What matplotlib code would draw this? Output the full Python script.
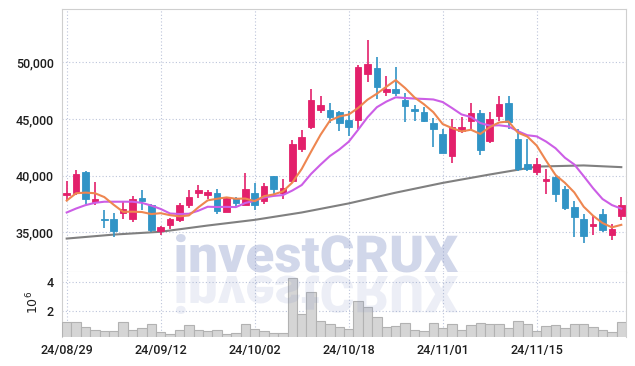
import matplotlib
matplotlib.use("Agg")
import matplotlib.pyplot as plt
import numpy as np
import pandas as pd
from matplotlib.textpath import TextPath
from matplotlib.patches import PathPatch
from matplotlib.font_manager import FontProperties
from matplotlib.transforms import Affine2D, IdentityTransform

# daily candles, 24/08/29 .. 24/11/29 (60 trading days)
opens = [38250, 38500, 40300, 37650, 36150, 36200, 36700, 36150, 38050, 37450,
         35150, 35650, 36100, 37400, 38450, 38250, 38500, 36800, 38000, 37450,
         38450, 37800, 39950, 38500, 39500, 42350, 44300, 45750, 45750, 45600,
         44900, 44900, 48950, 49500, 47350, 47650, 46650, 45850, 45600, 44650,
         43700, 41750, 43900, 44800, 45550, 43050, 45250, 46400, 43200, 41000,
         40350, 39500, 39850, 38800, 37200, 36150, 35550, 36650, 34750, 36450]
closes = [38500, 40150, 37900, 37900, 36100, 35100, 37050, 37950, 37750, 35200,
          35500, 36150, 37450, 38150, 38750, 38600, 36850, 38050, 37550, 38850,
          37450, 39050, 38800, 38900, 42750, 43450, 46700, 46200, 45150, 44600,
          44300, 49600, 49850, 47800, 47650, 47250, 46100, 45700, 44800, 44150,
          42000, 44300, 44250, 45550, 42300, 45000, 46350, 44700, 40600, 40600,
          41000, 39700, 38400, 37150, 36350, 34700, 35700, 35200, 35250, 37450]
highs = [39500, 40500, 40400, 39400, 37000, 36700, 37700, 38200, 38700, 37500,
         35600, 36250, 37550, 38700, 39150, 38750, 38850, 38100, 38100, 40200,
         39350, 39350, 40000, 39700, 43150, 44000, 47600, 47000, 46400, 45700,
         45700, 49750, 52000, 50450, 48800, 49550, 47300, 46250, 46050, 45100,
         44100, 45000, 45200, 46400, 45750, 45600, 47000, 47000, 44100, 43200,
         41600, 40600, 40050, 39050, 37750, 36650, 36500, 37050, 35700, 38100]
lows = [37850, 38300, 37500, 37400, 35400, 34550, 36150, 35950, 36950, 35000,
        34800, 35250, 35950, 37150, 38050, 37950, 36650, 36750, 37250, 37400,
        37000, 37500, 38400, 37950, 39350, 42100, 44150, 45550, 44650, 43950,
        43500, 44150, 48300, 46750, 47000, 47050, 44700, 44800, 44700, 42550,
        42000, 41100, 43800, 44100, 41800, 42850, 44800, 44100, 40450, 40450,
        40050, 38400, 37700, 36950, 34600, 34100, 34750, 35000, 34300, 36050]
# volume in millions of shares
volumes = [1.20, 1.20, 0.86, 0.65, 0.58, 0.58, 1.20, 0.65, 0.79, 1.06,
           0.53, 0.37, 0.65, 0.99, 0.65, 0.58, 0.65, 0.37, 0.46, 1.06,
           0.72, 0.58, 0.46, 0.46, 4.24, 1.76, 3.28, 1.26, 1.08, 0.86,
           0.73, 2.67, 2.23, 1.56, 0.86, 0.92, 1.13, 0.70, 0.57, 1.13,
           0.79, 1.06, 0.65, 1.01, 1.13, 1.08, 1.08, 0.79, 1.27, 1.08,
           0.58, 0.92, 1.01, 0.79, 1.08, 1.08, 0.86, 0.65, 0.53, 1.20]

# moving average values before the window fills
ma5_head = [37800, 38450, 38500, 38450]
ma10_head = [36750, 37100, 37400, 37600, 37700, 37700, 37700, 37700, 37600]
# long moving average (grey), read at a few days
ma_long_idx = [0, 5, 10, 15, 20, 25, 30, 35, 40, 45, 50, 55, 59]
ma_long_val = [34450, 34800, 35050, 35600, 36100, 36750, 37550, 38500, 39360,
               40100, 40800, 40900, 40750]

tick_labels = ["24/08/29", "24/09/12", "24/10/02", "24/10/18", "24/11/01", "24/11/15"]

UP = "#e3206b"
DOWN = "#3194c6"
GRID = "#bcc4da"
SPINE = "#cfcfcf"

plt.rcParams["font.family"] = ["Roboto", "DejaVu Sans"]

x = np.arange(len(closes))
o = np.array(opens)
c = np.array(closes)
s = pd.Series(closes, dtype=float)
ma5 = s.rolling(5).mean().to_numpy()
ma5[:4] = ma5_head
ma10 = s.rolling(10).mean().to_numpy()
ma10[:9] = ma10_head

fig = plt.figure(figsize=(6.35, 3.66), dpi=100)
ax = fig.add_axes([62 / 635, 1 - 272 / 366, 564 / 635, 263 / 366])
axv = fig.add_axes([62 / 635, 1 - 337 / 366, 564 / 635, 65 / 366], sharex=ax)

# candles
col = np.where(c >= o, UP, DOWN)
ax.vlines(x, lows, highs, colors=col, linewidth=1.2, zorder=3)
body_low = np.minimum(o, c)
body_h = np.maximum(np.abs(c - o), 60)
ax.bar(x, body_h, bottom=body_low, width=0.72, color=col, edgecolor=col,
       linewidth=0.6, zorder=4)

# moving averages
ax.plot(ma_long_idx, ma_long_val, color="#808080", lw=1.5, zorder=2)
ax.plot(x, ma10, color="#cc5ee6", lw=1.5, zorder=5)
ax.plot(x, ma5, color="#ee8650", lw=1.5, zorder=5)

ax.set_xlim(-0.5, len(closes) - 0.5)
ax.set_ylim(31500, 54700)
ax.set_yticks([35000, 40000, 45000, 50000])
ax.set_yticklabels([f"{v:,}" for v in [35000, 40000, 45000, 50000]])

# volume
axv.bar(x, volumes, width=1.0, color="#d5d5d5", edgecolor="#b2b2b2",
        linewidth=0.8, zorder=3)
axv.set_ylim(0.19, 4.67)
axv.set_yticks([2, 4])
axv.set_xticks(x[::10])
axv.set_xticklabels(tick_labels)

for a in (ax, axv):
    a.grid(True, color=GRID, linestyle=(0, (1, 2)), linewidth=0.8)
    a.set_axisbelow(True)
    for sp in a.spines.values():
        sp.set_color(SPINE)
    a.tick_params(length=0, labelsize=9, colors="#1e1e1e", pad=6)
    for lab in a.get_xticklabels() + a.get_yticklabels():
        lab.set_fontweight("medium")
ax.tick_params(labelbottom=False)
axv.spines["top"].set_visible(False)
axv.spines["bottom"].set_visible(False)
axv.tick_params(axis="x", pad=5)

fig.text(33 / 635, 1 - 302 / 366, r"$10^6$", rotation=90, ha="center",
         va="center", fontsize=9, color="#1e1e1e")

# watermark with its reflection
tp = TextPath((0, 0), "investCRUX", size=100,
              prop=FontProperties(family="Roboto", weight="black"))
ext = tp.get_extents()
sx = 282 / ext.width
sy = 38 / ext.y1
main = Affine2D().translate(-ext.x0, 0).scale(sx, sy).translate(176, 366 - 272)
refl = Affine2D().translate(-ext.x0, 0).scale(sx, -sy).translate(176, 366 - 276)
fig.add_artist(PathPatch(main.transform_path(tp), transform=IdentityTransform(),
                         facecolor="#8291c5", edgecolor="none", alpha=0.36, zorder=10))
fig.add_artist(PathPatch(refl.transform_path(tp), transform=IdentityTransform(),
                         facecolor="#8291c5", edgecolor="none", alpha=0.15, zorder=10))

fig.savefig("out.png", dpi=100)
